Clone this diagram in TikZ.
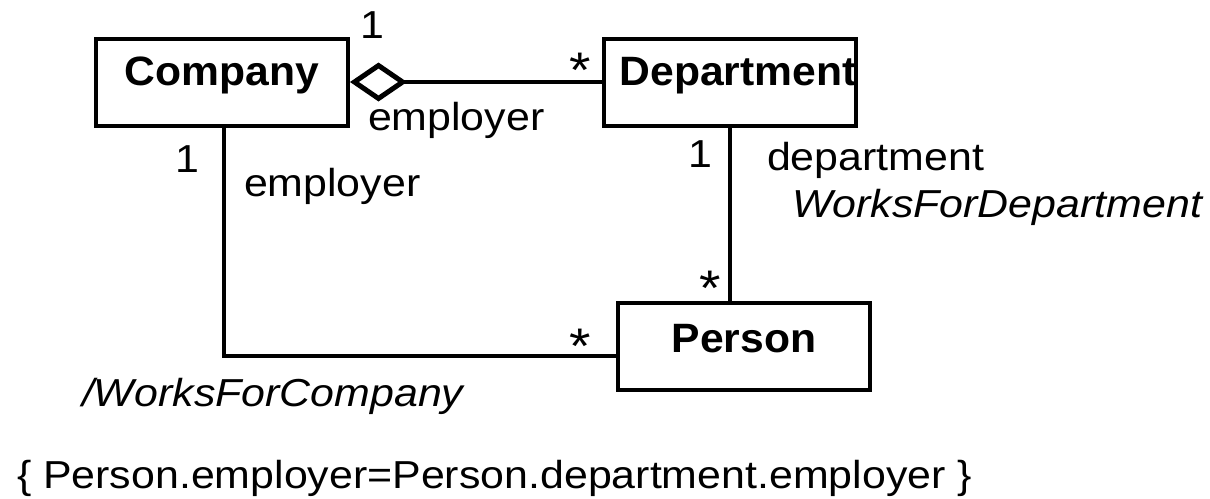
\documentclass[tikz,border=0pt]{standalone}
\usepackage{fontspec}
\setmainfont[FakeStretch=1.1]{Liberation Sans}
\newfontfamily\classfont[FakeStretch=1.04]{Liberation Sans}
\usetikzlibrary{arrows.meta}

\begin{document}
\begin{tikzpicture}[x=1pt,y=-1pt,line width=4pt,
    classbox/.style={draw=black,rectangle,inner sep=0pt,minimum width=252pt,minimum height=87pt,
      text height=29pt,text depth=22pt,font=\classfont\bfseries\fontsize{41}{48}\selectfont},
    lbl/.style={inner sep=0pt,font=\fontsize{39}{46}\selectfont},
    many/.style={inner sep=0pt,font=\fontsize{50}{56}\selectfont},
    aggr/.style={{Diamond[open,length=57pt,width=39pt,line width=5pt]}-}]
            \useasboundingbox (0,0) rectangle (1210,498);

            % classes
            \node[classbox] (company) at (222,82) {Company};
            \node[classbox] (department) at (730,82) {\hspace*{16pt}Department};
            \node[classbox,text depth=16pt] (person) at (744,346) {Person};

            % associations
            \draw[aggr] (company.east) -- (department.west);
            \draw ([xshift=2pt]company.south) |- ([yshift=-10pt]person.west);
            \draw (department.south) -- (department.south |- person.north);

            % ends and roles
            \node[lbl,anchor=base] (mCompAggr) at (372,38) {1};
            \node[many,anchor=base] (mDeptAggr) at (580,87) {*};
            \node[lbl,anchor=base west] (rEmployerA) at (366,130) {employer};
            \node[lbl,anchor=base] (mCompWorks) at (187,172) {1};
            \node[lbl,anchor=base west] (rEmployerB) at (242,196) {employer};
            \node[many,anchor=base] (mPersWorks) at (580,363) {*};
            \node[lbl,anchor=base] (mDeptWorks) at (700,167) {1};
            \node[lbl,anchor=base west] (rDepartment) at (765,170) {department};
            \node[many,anchor=base] (mPersDept) at (710,305) {*};

            % association names
            \node[lbl,anchor=base west] (nWorksComp) at (80,406) {\itshape /WorksForCompany};
            \node[lbl,anchor=base west] (nWorksDept) at (790,217) {\itshape WorksForDepartment};

            % constraint
            \node[lbl,anchor=base west] (constraint) at (15,488) {\{ Person.employer=Person.department.employer \}};
        \end{tikzpicture}
\end{document}
